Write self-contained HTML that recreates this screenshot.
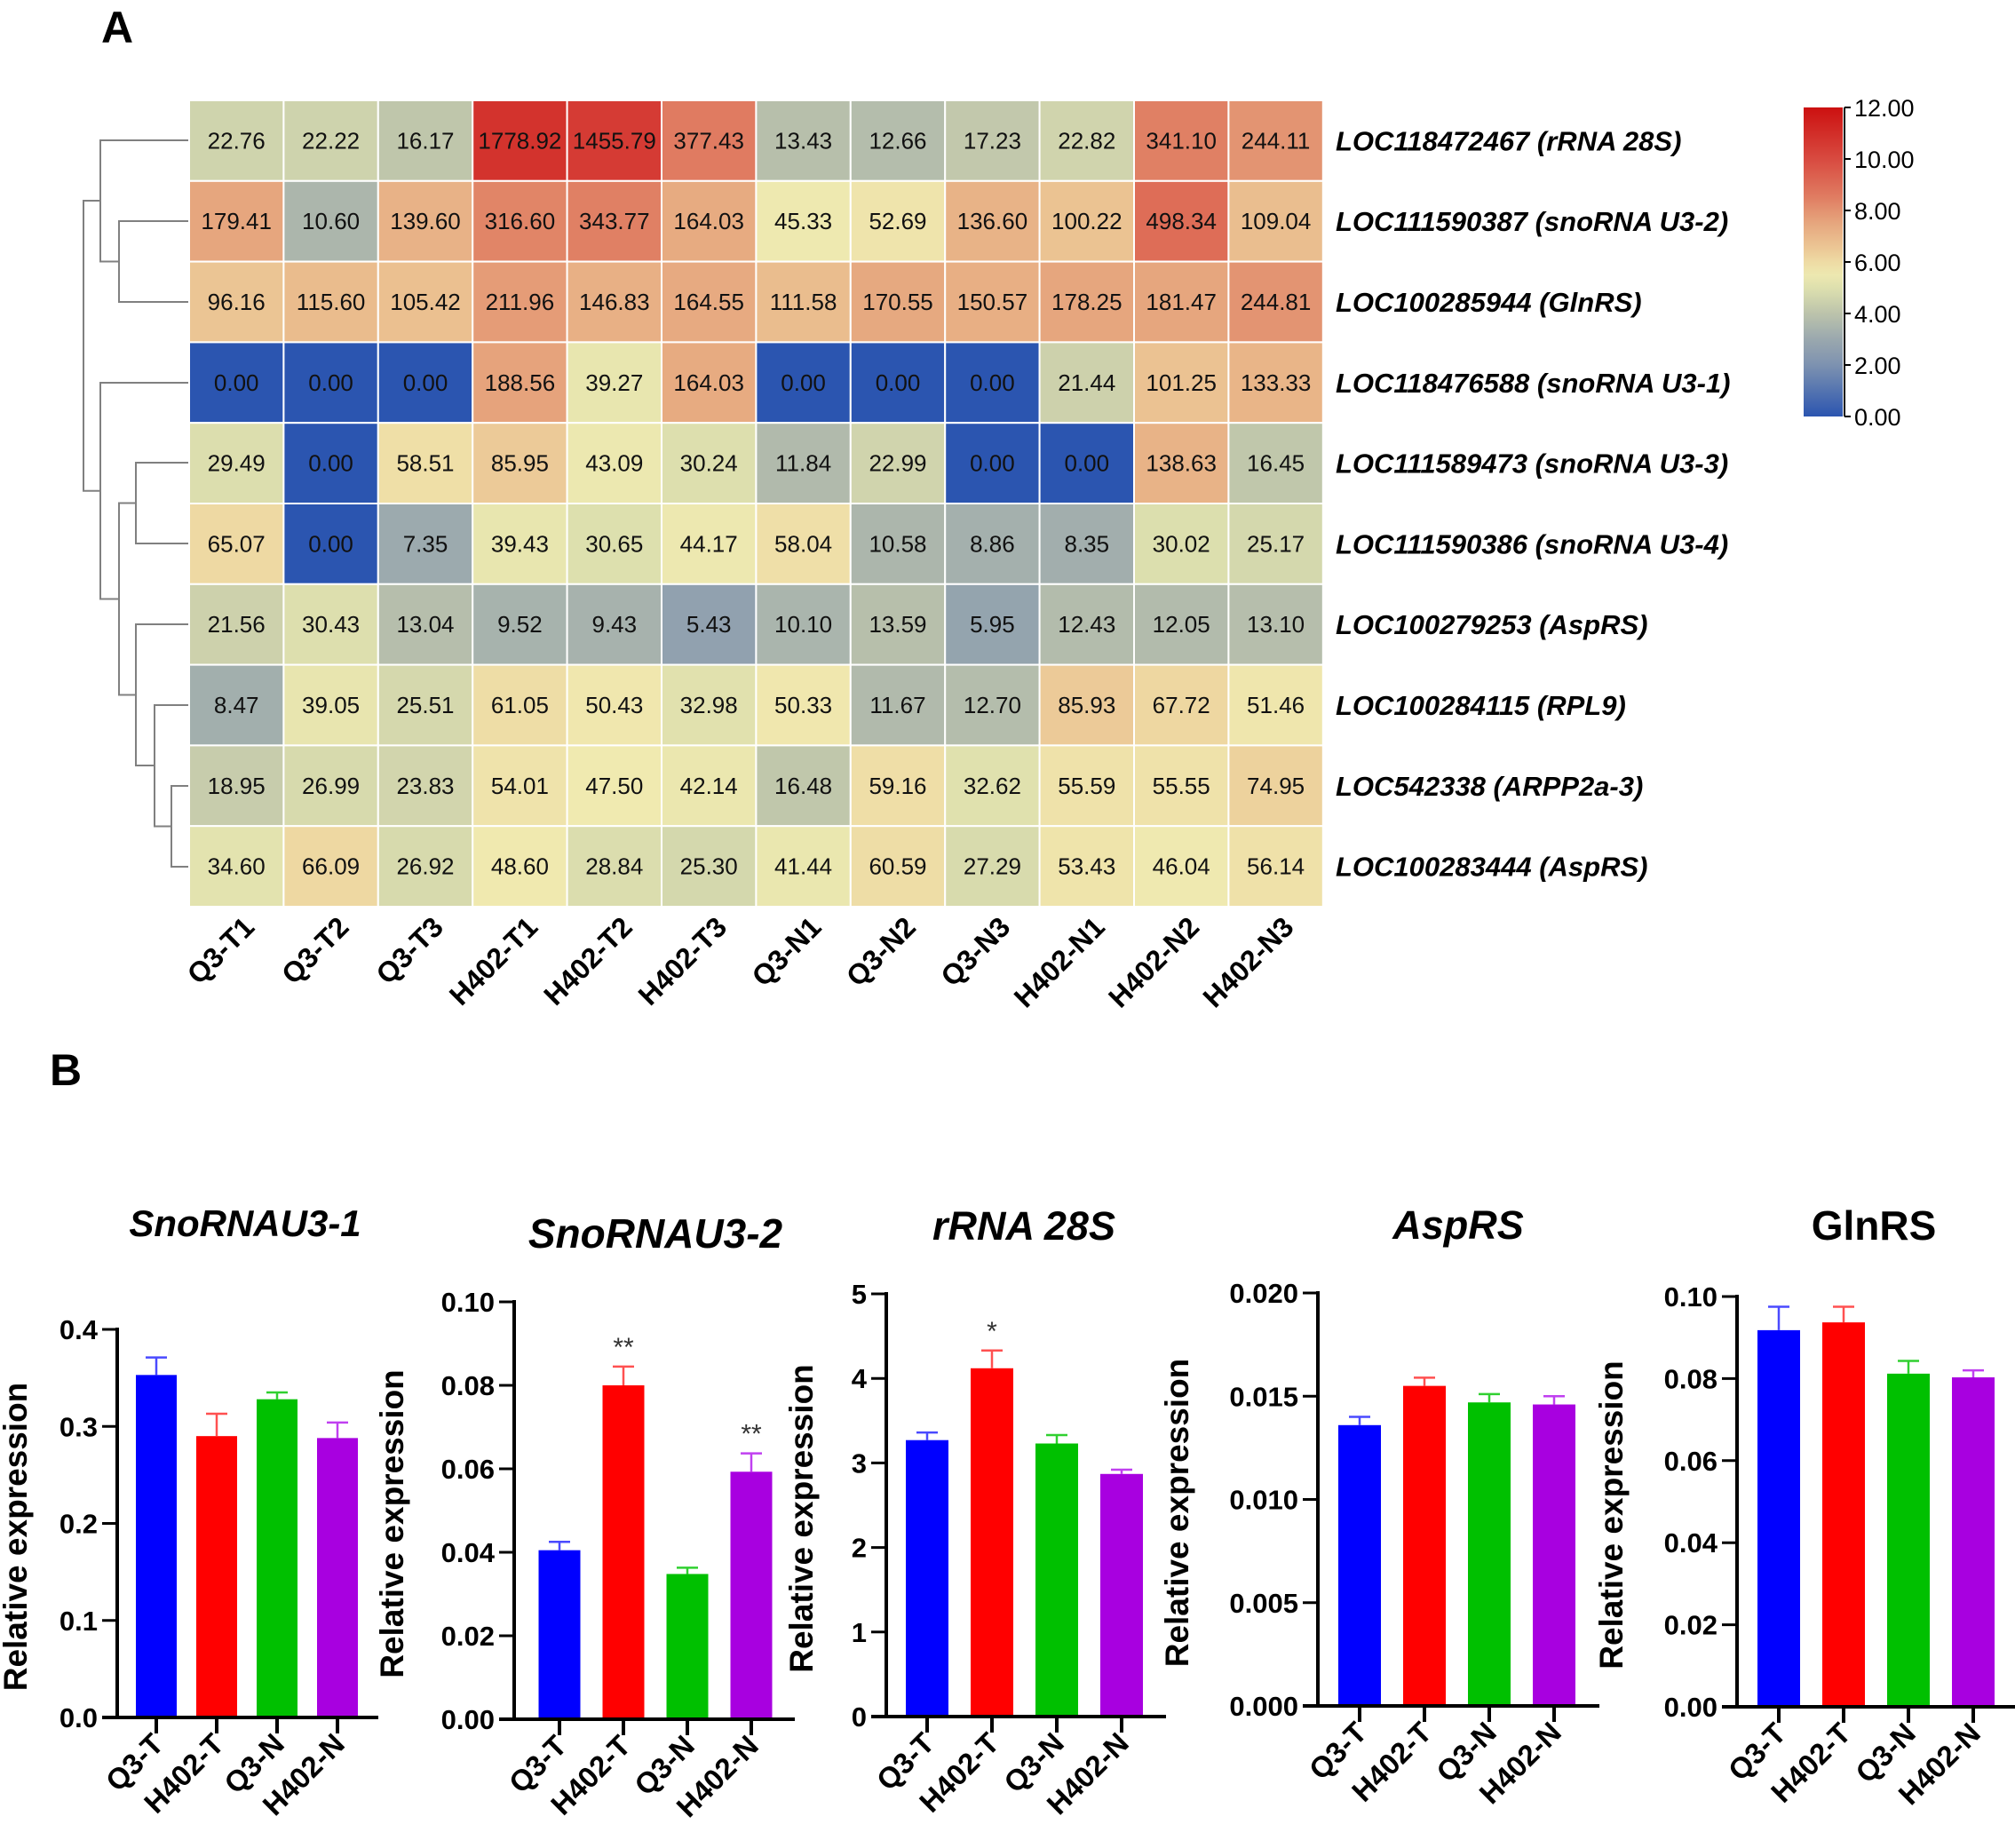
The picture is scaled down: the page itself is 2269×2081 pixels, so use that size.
<!DOCTYPE html>
<html><head><meta charset="utf-8">
<style>
html,body{margin:0;padding:0;background:#fff;}
svg{display:block;font-family:"Liberation Sans",Arial,sans-serif;}
</style></head>
<body>
<svg id="fig" width="2269" height="2081" viewBox="0 0 2269 2081" xmlns="http://www.w3.org/2000/svg">
<rect width="2269" height="2081" fill="#fff"/>
<text x="114" y="48" font-size="50" font-weight="bold">A</text>
<text x="56" y="1222" font-size="50" font-weight="bold">B</text>
<g id="dendro" stroke="#808080" stroke-width="2" fill="none">
<path d="M212 249H134V340H212"/>
<path d="M212 158H113V294.5H134"/>
<path d="M212 521H153V612H212"/>
<path d="M212 885H193V976H212"/>
<path d="M212 794H174V930.5H193"/>
<path d="M212 703H153V862H174"/>
<path d="M153 566.5H134V782.5H153"/>
<path d="M212 431H113V674.5H134"/>
<path d="M113 226H94V552.75H113"/>
</g>
<g id="heat"></g>
<g id="cbar"></g>
<g id="bars"></g>
</svg>
<script>
const NS="http://www.w3.org/2000/svg";
const samples=["Q3-T1","Q3-T2","Q3-T3","H402-T1","H402-T2","H402-T3","Q3-N1","Q3-N2","Q3-N3","H402-N1","H402-N2","H402-N3"];
const genes=["LOC118472467 (rRNA 28S)","LOC111590387 (snoRNA U3-2)","LOC100285944 (GlnRS)","LOC118476588 (snoRNA U3-1)","LOC111589473 (snoRNA U3-3)","LOC111590386 (snoRNA U3-4)","LOC100279253 (AspRS)","LOC100284115 (RPL9)","LOC542338 (ARPP2a-3)","LOC100283444 (AspRS)"];
const r1=[22.76,22.22,16.17,1778.92,1455.79,377.43,13.43,12.66,17.23,22.82,341.10,244.11];
const r2=[179.41,10.60,139.60,316.60,343.77,164.03,45.33,52.69,136.60,100.22,498.34,109.04];
const r3=[96.16,115.60,105.42,211.96,146.83,164.55,111.58,170.55,150.57,178.25,181.47,244.81];
const r4=[0,0,0,188.56,39.27,164.03,0,0,0,21.44,101.25,133.33];
const r5=[29.49,0,58.51,85.95,43.09,30.24,11.84,22.99,0,0,138.63,16.45];
const r6=[65.07,0,7.35,39.43,30.65,44.17,58.04,10.58,8.86,8.35,30.02,25.17];
const r7=[21.56,30.43,13.04,9.52,9.43,5.43,10.10,13.59,5.95,12.43,12.05,13.10];
const r8=[8.47,39.05,25.51,61.05,50.43,32.98,50.33,11.67,12.70,85.93,67.72,51.46];
const r9=[18.95,26.99,23.83,54.01,47.50,42.14,16.48,59.16,32.62,55.59,55.55,74.95];
const r10=[34.60,66.09,26.92,48.60,28.84,25.30,41.44,60.59,27.29,53.43,46.04,56.14];
const heatRows=[r1,r2,r3,r4,r5,r6,r7,r8,r9,r10];
const cbTicks=[0,2,4,6,8,10,12];

const stops=[[0,[43,85,176]],[2,[125,146,176]],[3,[154,168,174]],[4,[188,195,171]],[5,[222,224,174]],[5.6,[240,234,176]],[6.5,[236,200,150]],[7.5,[230,166,126]],[8.5,[224,125,98]],[10,[216,74,64]],[12,[204,16,16]]];
function col(v){v=Math.max(0,Math.min(12,v));for(let i=1;i<stops.length;i++){if(v<=stops[i][0]){const a=stops[i-1],b=stops[i],t=(v-a[0])/(b[0]-a[0]);const c=a[1].map((x,k)=>Math.round(x+(b[1][k]-x)*t));return `rgb(${c})`;}}return "rgb(204,16,16)";}
function mk(tag,attrs,parent,txt){const e=document.createElementNS(NS,tag);for(const k in attrs)e.setAttribute(k,attrs[k]);if(txt!==undefined)e.textContent=txt;parent.appendChild(e);return e;}

// heatmap
const hx0=213,hy0=113,cw=106.4,ch=90.8;
const heat=document.getElementById('heat');
heatRows.forEach((row,i)=>{row.forEach((v,j)=>{
  const r=mk('rect',{x:hx0+j*cw,y:hy0+i*ch,width:cw,height:ch,fill:col(Math.log2(v+1)),stroke:'#fff','stroke-width':2},heat);
  
  
  const t=mk('text',{x:hx0+j*cw+cw/2,y:hy0+i*ch+ch/2+9,'text-anchor':'middle','font-size':26,fill:'#111'},heat,v.toFixed(2));
  
  
});
  const g=mk('text',{x:1504,y:hy0+i*ch+ch/2+11,'font-size':31,'font-weight':'bold','font-style':'italic'},heat,genes[i]);
  
  
});
samples.forEach((s,j)=>{
  const x=hx0+j*cw+cw/2+22,y=1046;
  const t=mk('text',{x:x,y:y,'text-anchor':'end','font-size':32,'font-weight':'bold',transform:`rotate(-45 ${x} ${y})`},heat,s);
  
  
});

// colorbar
const cb=document.getElementById('cbar');
const defs=mk('defs',{},cb);
const lg=mk('linearGradient',{id:'cg',x1:0,y1:1,x2:0,y2:0},defs);
for(let v=0;v<=12;v+=0.5){mk('stop',{offset:(v/12),'stop-color':col(v)},lg);}
const cbT=121,cbB=469;
const cbr=mk('rect',{x:2031,y:cbT,width:44,height:cbB-cbT,fill:'url(#cg)'},cb);


mk('line',{x1:2077,y1:cbT,x2:2077,y2:cbB,stroke:'#000','stroke-width':2},cb);
cbTicks.forEach(v=>{const y=cbB-(v/12)*(cbB-cbT);
  mk('line',{x1:2077,y1:y,x2:2084,y2:y,stroke:'#000','stroke-width':2},cb);
  const t=mk('text',{x:2088,y:y+10,'font-size':27},cb,v.toFixed(2));
  
  
});

// bar charts
const groups=["Q3-T","H402-T","Q3-N","H402-N"];
const barColors=["#0000ff","#ff0000","#00c000","#a800e0"];
const errColors=["#4a4aff","#ff5050","#30d030","#c040f0"];
const snoU31Mean=[0.353,0.290,0.328,0.288];
const snoU31Err=[0.018,0.023,0.007,0.016];
const snoU32Mean=[0.0405,0.0800,0.0348,0.0593];
const snoU32Err=[0.0020,0.0045,0.0015,0.0044];
const rrnaMean=[3.27,4.12,3.23,2.87];
const rrnaErr=[0.09,0.21,0.10,0.05];
const aspMean=[0.0136,0.0155,0.0147,0.0146];
const aspErr=[0.0004,0.0004,0.0004,0.0004];
const glnMean=[0.0918,0.0937,0.0812,0.0803];
const glnErr=[0.0057,0.0038,0.0031,0.0017];
const snoU31Ticks=[0,0.1,0.2,0.3,0.4];
const snoU32Ticks=[0,0.02,0.04,0.06,0.08,0.10];
const rrnaTicks=[0,1,2,3,4,5];
const aspTicks=[0,0.005,0.010,0.015,0.020];
const glnTicks=[0,0.02,0.04,0.06,0.08,0.10];
const snoU32Stars=["","**","","**"];
const rrnaStars=["","*","",""];

const panels=[
 {name:"snorna-u3-1",title:"SnoRNAU3-1",italic:true,ts:42,tx:276,ty:1392,ax:132,y0:1934,yt:1497,max:0.4,ticks:snoU31Ticks,dec:1,off:44,sp:68,bw:46,xe:426,yx:30,mean:snoU31Mean,err:snoU31Err,stars:null},
 {name:"snorna-u3-2",title:"SnoRNAU3-2",italic:true,ts:46,tx:738,ty:1405,ax:579,y0:1936,yt:1466,max:0.10,ticks:snoU32Ticks,dec:2,off:51,sp:72,bw:47,xe:895,yx:454,mean:snoU32Mean,err:snoU32Err,stars:snoU32Stars},
 {name:"rrna-28s",title:"rRNA 28S",italic:true,ts:45,tx:1153,ty:1396,ax:998,y0:1933,yt:1457,max:5,ticks:rrnaTicks,dec:0,off:46,sp:73,bw:48,xe:1313,yx:915,mean:rrnaMean,err:rrnaErr,stars:rrnaStars},
 {name:"asprs",title:"AspRS",italic:true,ts:45,tx:1642,ty:1395,ax:1484,y0:1921,yt:1456,max:0.020,ticks:aspTicks,dec:3,off:47,sp:73,bw:48,xe:1801,yx:1338,mean:aspMean,err:aspErr,stars:null},
 {name:"glnrs",title:"GlnRS",italic:false,ts:46,tx:2110,ty:1396,ax:1956,y0:1922,yt:1460,max:0.10,ticks:glnTicks,dec:2,off:47,sp:73,bw:48,xe:2269,yx:1827,mean:glnMean,err:glnErr,stars:null}
];
const bars=document.getElementById('bars');
panels.forEach(p=>{
  const g=mk('g',{},bars);
  
  
  const Y=v=>p.y0-(v/p.max)*(p.y0-p.yt);
  const X=i=>p.ax+p.off+i*p.sp;
  const tt=mk('text',{x:p.tx,y:p.ty,'text-anchor':'middle','font-size':p.ts,'font-weight':'bold','font-style':p.italic?'italic':'normal'},g,p.title);
  
  
  const cy=(p.y0+p.yt)/2+15;
  const yt=mk('text',{x:p.yx,y:cy,'text-anchor':'middle','font-size':37,'font-weight':'bold',transform:`rotate(-90 ${p.yx} ${cy})`},g,"Relative expression");
  
  
  p.mean.forEach((m,i)=>{
    const cx=X(i);
    const b=mk('rect',{x:cx-p.bw/2,y:Y(m),width:p.bw,height:p.y0-Y(m),fill:barColors[i]},g);
    
    
    const ey=Y(m+p.err[i]);
    mk('line',{x1:cx,y1:Y(m),x2:cx,y2:ey,stroke:errColors[i],'stroke-width':2.5},g);
    mk('line',{x1:cx-12,y1:ey,x2:cx+12,y2:ey,stroke:errColors[i],'stroke-width':2.5},g);
    if(p.stars&&p.stars[i]){const s=mk('text',{x:cx,y:ey-12,'text-anchor':'middle','font-size':30,fill:'#333'},g,p.stars[i]);
      
      }
    mk('line',{x1:cx,y1:p.y0,x2:cx,y2:p.y0+18,stroke:'#000','stroke-width':4},g);
    const lx=cx+10,ly=p.y0+32;
    const l=mk('text',{x:lx,y:ly,'text-anchor':'end','font-size':33,'font-weight':'bold',transform:`rotate(-45 ${lx} ${ly})`},g,groups[i]);
    
    
  });
  p.ticks.forEach(v=>{const y=Y(v);
    mk('line',{x1:p.ax-17,y1:y,x2:p.ax,y2:y,stroke:'#000','stroke-width':3},g);
    const t=mk('text',{x:p.ax-22,y:y+11,'text-anchor':'end','font-size':31,'font-weight':'bold'},g,v.toFixed(p.dec));
    
    
  });
  mk('line',{x1:p.ax,y1:p.yt-2,x2:p.ax,y2:p.y0+2,stroke:'#000','stroke-width':4},g);
  mk('line',{x1:p.ax-17,y1:p.y0,x2:p.xe,y2:p.y0,stroke:'#000','stroke-width':4},g);
});
</script>
</body></html>
